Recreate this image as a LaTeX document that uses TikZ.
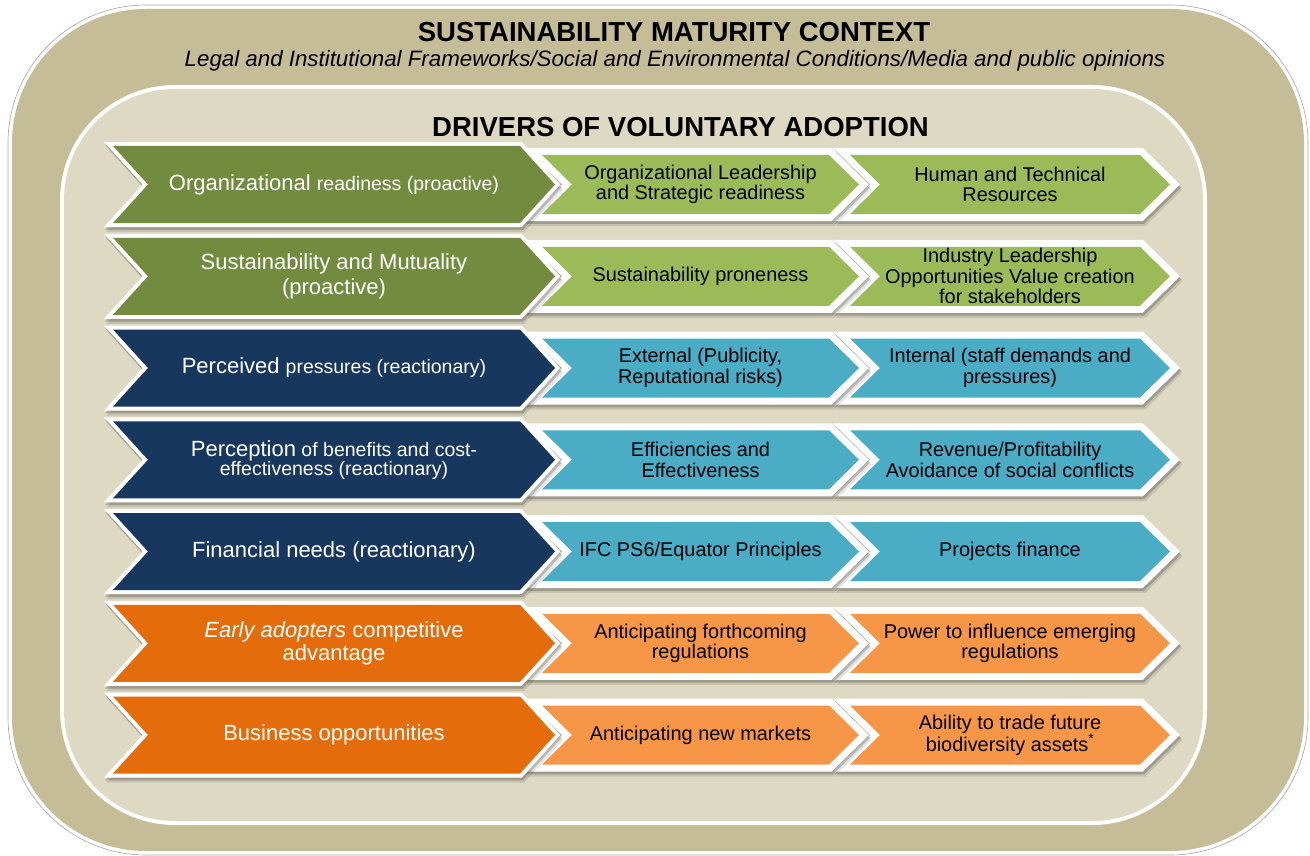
\documentclass[tikz,border=0pt]{standalone}
\usepackage{fontspec}
\setmainfont{Liberation Sans}
\definecolor{tanO}{HTML}{C4BD97}
\definecolor{tanI}{HTML}{DDD9C3}
\definecolor{oliveD}{HTML}{738B3F}
\definecolor{oliveL}{HTML}{9BBB59}
\definecolor{navyD}{HTML}{17375E}
\definecolor{aquaL}{HTML}{4BACC6}
\definecolor{orangeD}{HTML}{E46C0A}
\definecolor{orangeL}{HTML}{F79646}

% #1 name, #2 xl, #3 xr, #4 yc, #5 h, #6 d, #7 border, #8 colour
\newcommand{\Chev}[8]{%
  \pgfmathsetmacro{\chvL}{sqrt((#6)*(#6)+(#5)*(#5))*(#7)/(#5)}%
  \pgfmathsetmacro{\chvD}{(#7)*(#6)/(#5)}%
  \pgfmathsetmacro{\chvTL}{#2-\chvD-\chvL}%
  \pgfmathsetmacro{\chvN}{#2+#6-\chvL}%
  \pgfmathsetmacro{\chvTR}{#3-\chvD+\chvL}%
  \pgfmathsetmacro{\chvT}{#3+#6+\chvL}%
  \pgfmathsetmacro{\chvH}{#5+#7}%
  \fill[black, opacity=.10, shift={(2.5,5)}] (\chvTL,#4-\chvH) -- (\chvTR,#4-\chvH) -- (\chvT,#4) -- (\chvTR,#4+\chvH) -- (\chvTL,#4+\chvH) -- (\chvN,#4) -- cycle;
  \fill[black, opacity=.2, shift={(1.2,2.8)}] (\chvTL,#4-\chvH) -- (\chvTR,#4-\chvH) -- (\chvT,#4) -- (\chvTR,#4+\chvH) -- (\chvTL,#4+\chvH) -- (\chvN,#4) -- cycle;
  \fill[white] (\chvTL,#4-\chvH) -- (\chvTR,#4-\chvH) -- (\chvT,#4) -- (\chvTR,#4+\chvH) -- (\chvTL,#4+\chvH) -- (\chvN,#4) -- cycle;
  \fill[#8] (#2,#4-#5) -- (#3,#4-#5) -- (#3+#6,#4) -- (#3,#4+#5) -- (#2,#4+#5) -- (#2+#6,#4) -- cycle;
  \coordinate (#1) at ({(#2+#3+#6)/2},#4);
}
\newcommand{\ChevA}[3]{\Chev{#1}{113}{520}{#2}{38.5}{35}{4}{#3}}
\newcommand{\ChevB}[3]{\Chev{#1}{542}{829}{#2}{29.5}{30}{7}{#3}}
\newcommand{\ChevC}[3]{\Chev{#1}{850}{1140}{#2}{29.5}{30}{7}{#3}}
\newcommand{\sm}{\fontsize{19.5}{20}\selectfont}

\begin{document}
\begin{tikzpicture}[x=1pt,y=-1pt,
  bigtxt/.style={text=white, align=center, inner sep=0pt, font=\fontsize{22}{25}\selectfont},
  smtxt/.style={text=black, align=center, inner sep=0pt, font=\fontsize{19.9}{20.5}\selectfont},
  ttl/.style={anchor=base, inner sep=0pt, font=\fontsize{27.5}{30}\selectfont\bfseries}]
\useasboundingbox (0,0) rectangle (1310,856);
% frames
\filldraw[fill=white, draw=black!35, line width=0.6, rounded corners=138] (8,5) rectangle (1308,855);
\fill[tanO, rounded corners=134] (12,9) rectangle (1304,851);
\fill[white, rounded corners=115] (60,85) rectangle (1207,825);
\fill[tanI, rounded corners=111] (64,89) rectangle (1203,821);
% titles
\node[ttl] (title) at (674,42) {SUSTAINABILITY MATURITY CONTEXT};
\node[anchor=base, inner sep=0pt, font=\fontsize{22.3}{24}\selectfont\itshape] (subtitle) at (675,67) {Legal and Institutional Frameworks/Social and Environmental Conditions/Media and public opinions};
\node[ttl] (drivers) at (680.5,137) {DRIVERS OF VOLUNTARY ADOPTION};

% rows: col3, col2, col1
\ChevC{c3r1}{184.5}{oliveL}  \ChevB{c2r1}{184.5}{oliveL}  \ChevA{c1r1}{184.5}{oliveD}
\ChevC{c3r2}{276.25}{oliveL} \ChevB{c2r2}{276.25}{oliveL} \ChevA{c1r2}{276.25}{oliveD}
\ChevC{c3r3}{368}{aquaL}     \ChevB{c2r3}{368}{aquaL}     \ChevA{c1r3}{368}{navyD}
\ChevC{c3r4}{459.75}{aquaL}  \ChevB{c2r4}{459.75}{aquaL}  \ChevA{c1r4}{459.75}{navyD}
\ChevC{c3r5}{551.5}{aquaL}   \ChevB{c2r5}{551.5}{aquaL}   \ChevA{c1r5}{551.5}{navyD}
\ChevC{c3r6}{643.25}{orangeL} \ChevB{c2r6}{643.25}{orangeL} \ChevA{c1r6}{643.25}{orangeD}
\ChevC{c3r7}{735}{orangeL}   \ChevB{c2r7}{735}{orangeL}   \ChevA{c1r7}{735}{orangeD}

% column 1 texts
\node[bigtxt] (t1r1) at (c1r1) {Organizational {\sm readiness (proactive)}};
\node[bigtxt] (t1r2) at (c1r2) {Sustainability and Mutuality\\(proactive)};
\node[bigtxt] (t1r3) at (c1r3) {Perceived {\sm pressures (reactionary)}};
\node[bigtxt, font=\fontsize{19.5}{19}\selectfont] (t1r4) at (c1r4) {{\fontsize{22}{19}\selectfont Perception} of benefits and cost-\\effectiveness (reactionary)};
\node[bigtxt] (t1r5) at (c1r5) {Financial needs (reactionary)};
\node[bigtxt, font=\fontsize{22}{23}\selectfont] (t1r6) at (c1r6) {\textit{Early adopters} competitive\\advantage};
\node[bigtxt] (t1r7) at (c1r7) {Business opportunities};

% column 2 texts
\node[smtxt] (t2r1) at (c2r1) {Organizational Leadership\\and Strategic readiness};
\node[smtxt] (t2r2) at (c2r2) {Sustainability proneness};
\node[smtxt] (t2r3) at (c2r3) {External (Publicity,\\Reputational risks)};
\node[smtxt] (t2r4) at (c2r4) {Efficiencies and\\Effectiveness};
\node[smtxt] (t2r5) at (c2r5) {IFC PS6/Equator Principles};
\node[smtxt] (t2r6) at (c2r6) {Anticipating forthcoming\\regulations};
\node[smtxt] (t2r7) at (c2r7) {Anticipating new markets};

% column 3 texts
\node[smtxt] (t3r1) at (c3r1) {Human and Technical\\Resources};
\node[smtxt] (t3r2) at (c3r2) {Industry Leadership\\Opportunities Value creation\\for stakeholders};
\node[smtxt] (t3r3) at (c3r3) {Internal (staff demands and\\pressures)};
\node[smtxt] (t3r4) at (c3r4) {Revenue/Profitability\\Avoidance of social conflicts};
\node[smtxt] (t3r5) at (c3r5) {Projects finance};
\node[smtxt] (t3r6) at (c3r6) {Power to influence emerging\\regulations};
\node[smtxt] (t3r7) at (c3r7) {Ability to trade future\\biodiversity assets\textsuperscript{*}};
\end{tikzpicture}
\end{document}
